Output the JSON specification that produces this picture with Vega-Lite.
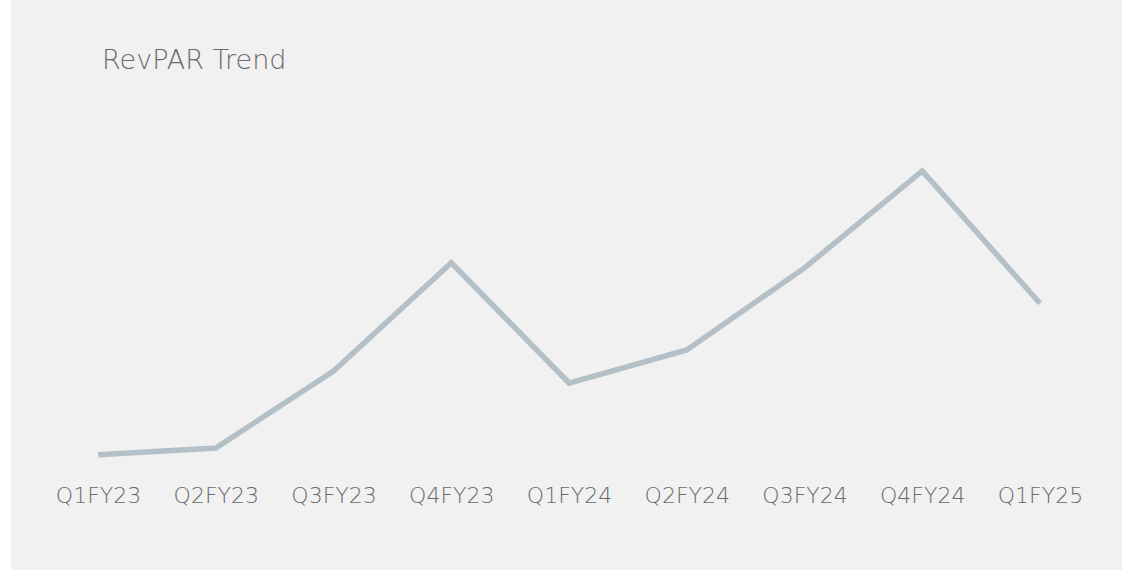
{
  "$schema": "https://vega.github.io/schema/vega-lite/v6.json",
  "width": 1111,
  "height": 570,
  "autosize": "none",
  "padding": {"left": 11, "top": 0, "right": 3, "bottom": 0},
  "background": "#ffffff",
  "title": {
    "text": "RevPAR Trend",
    "anchor": "start",
    "frame": "group",
    "orient": "top",
    "baseline": "alphabetic",
    "offset": -96,
    "dx": 91,
    "font": "DejaVu Sans",
    "fontSize": 27,
    "fontWeight": 300,
    "color": "#6a6a6a"
  },
  "config": {
    "view": {"fill": "#f1f1f1", "stroke": null}
  },
  "data": {
    "values": [
      {"quarter": "Q1FY23", "revpar": 20.2},
      {"quarter": "Q2FY23", "revpar": 21.4},
      {"quarter": "Q3FY23", "revpar": 34.9},
      {"quarter": "Q4FY23", "revpar": 53.9},
      {"quarter": "Q1FY24", "revpar": 32.8},
      {"quarter": "Q2FY24", "revpar": 38.6},
      {"quarter": "Q3FY24", "revpar": 53.0},
      {"quarter": "Q4FY24", "revpar": 70.0},
      {"quarter": "Q1FY25", "revpar": 46.8}
    ]
  },
  "mark": {"type": "line", "color": "#b4c0c7", "strokeWidth": 5.5, "strokeCap": "butt", "strokeJoin": "miter"},
  "encoding": {
    "x": {
      "field": "quarter",
      "type": "ordinal",
      "sort": null,
      "scale": {"type": "point", "padding": 0.718, "align": 0.515},
      "axis": {
        "title": null,
        "orient": "bottom",
        "domain": false,
        "ticks": false,
        "tickSize": 0,
        "grid": false,
        "labelAngle": 0,
        "labelPadding": -75,
        "labelBaseline": "middle",
        "labelFont": "DejaVu Sans",
        "labelFontSize": 22,
        "labelFontWeight": 300,
        "labelColor": "#6a6a6a"
      }
    },
    "y": {
      "field": "revpar",
      "type": "quantitative",
      "scale": {"domain": [0, 100], "zero": false, "nice": false},
      "axis": null
    }
  }
}
